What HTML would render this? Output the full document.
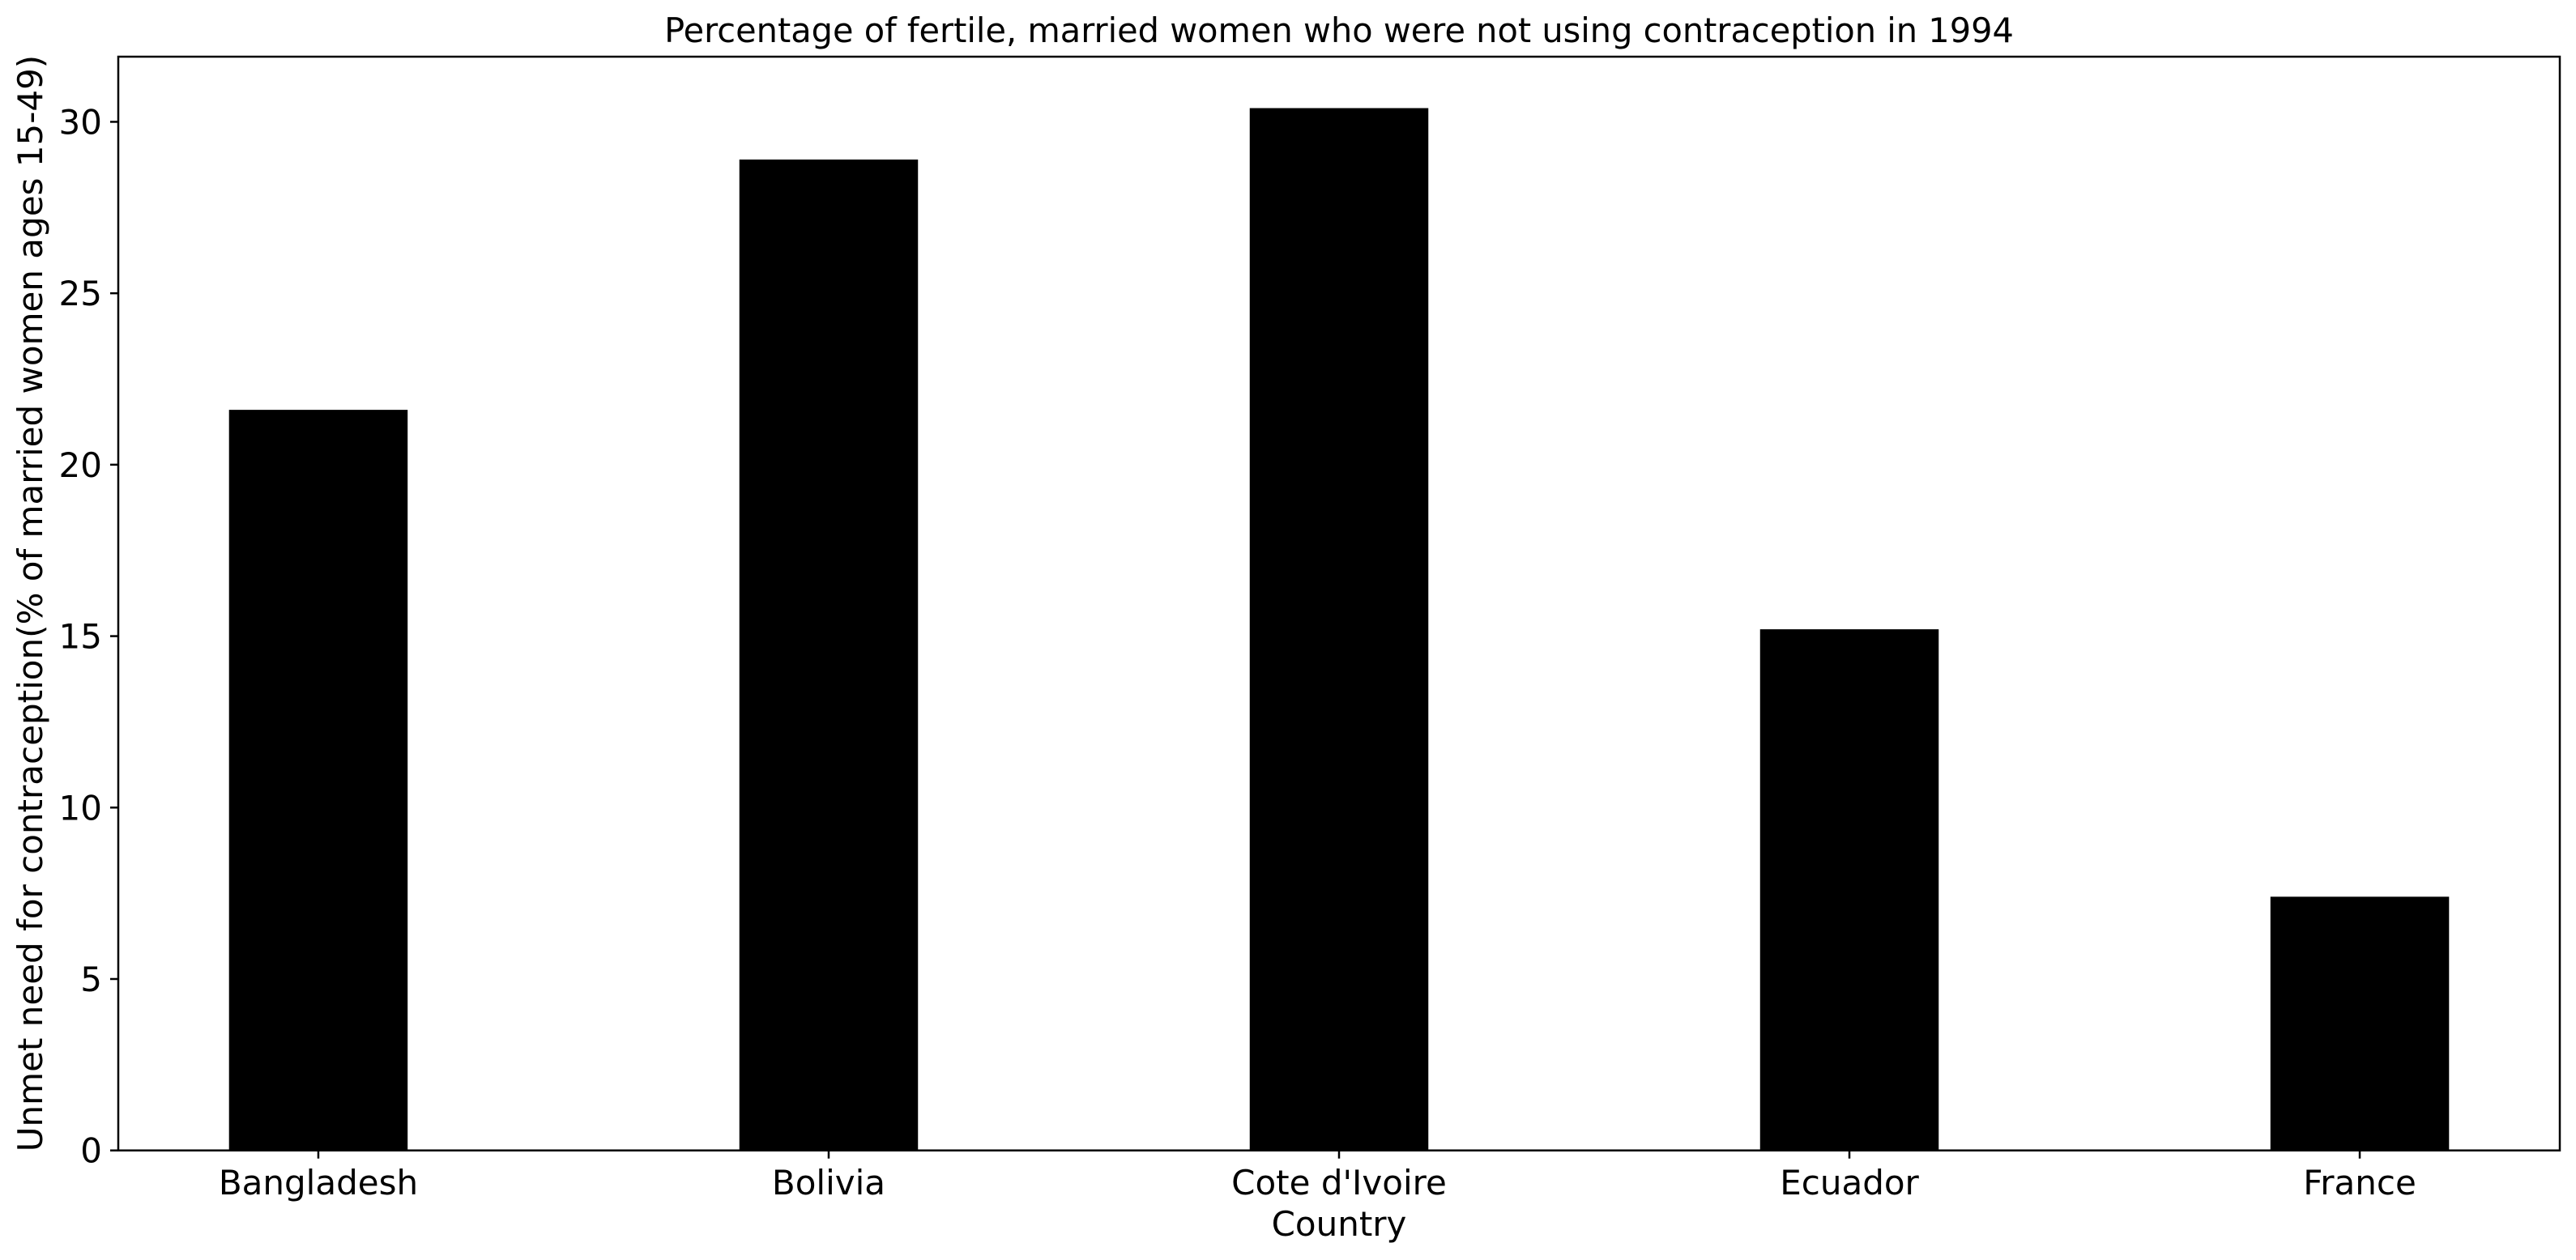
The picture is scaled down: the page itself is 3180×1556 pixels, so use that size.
<!DOCTYPE html>
<html><head><meta charset="utf-8"><style>
html,body{margin:0;padding:0;background:#fff;}
svg{display:block;font-family:"DejaVu Sans","Liberation Sans",sans-serif;}
</style></head><body>
<svg id="chart" width="3180" height="1556" viewBox="0 0 3180 1556" xmlns="http://www.w3.org/2000/svg">
<text x="1653" y="52" font-size="41.5" text-anchor="middle">Percentage of fertile, married women who were not using contraception in 1994</text>
<g id="bars"></g>
<g id="yticks"></g>
<g id="xticks"></g>
<rect x="146" y="70" width="3014" height="1350.7" fill="none" stroke="#000" stroke-width="2.5"/>
<text x="1653" y="1526" font-size="42" text-anchor="middle">Country</text>
<text transform="translate(52,745) rotate(-90)" font-size="42" text-anchor="middle">Unmet need for contraception(% of married women ages 15-49)</text>
</svg>
<script>
const categories = ["Bangladesh","Bolivia","Cote d'Ivoire","Ecuador","France"];
const values = [21.6, 28.9, 30.4, 15.2, 7.4];
const yTicks = [0,5,10,15,20,25,30];
const NS="http://www.w3.org/2000/svg";
const pLeft=146,pRight=3160,pTop=70,pBottom=1420.7;
const xMin=-0.392,xMax=4.392,yMin=0,yMax=31.9;
const barW=0.35;
function xs(v){return pLeft+(v-xMin)/(xMax-xMin)*(pRight-pLeft);}
function ys(v){return pBottom-(v-yMin)/(yMax-yMin)*(pBottom-pTop);}
const gb=document.getElementById('bars'),gy=document.getElementById('yticks'),gx=document.getElementById('xticks');
values.forEach((v,i)=>{
  const r=document.createElementNS(NS,'rect');
  r.setAttribute('x',xs(i-barW/2));r.setAttribute('width',xs(i+barW/2)-xs(i-barW/2));
  r.setAttribute('y',ys(v));r.setAttribute('height',ys(0)-ys(v));r.setAttribute('fill','#000');
  
  
  gb.appendChild(r);
});
yTicks.forEach(t=>{
  const y=ys(t);
  const l=document.createElementNS(NS,'line');
  l.setAttribute('x1',pLeft-10);l.setAttribute('x2',pLeft);l.setAttribute('y1',y);l.setAttribute('y2',y);
  l.setAttribute('stroke','#000');l.setAttribute('stroke-width','2.5');
  
  
  gy.appendChild(l);
  const tx=document.createElementNS(NS,'text');
  tx.setAttribute('x',pLeft-20);tx.setAttribute('y',y+15);tx.setAttribute('font-size','42');tx.setAttribute('text-anchor','end');
  tx.textContent=t;
  
  
  gy.appendChild(tx);
});
categories.forEach((c,i)=>{
  const x=xs(i);
  const l=document.createElementNS(NS,'line');
  l.setAttribute('x1',x);l.setAttribute('x2',x);l.setAttribute('y1',pBottom);l.setAttribute('y2',pBottom+10);
  l.setAttribute('stroke','#000');l.setAttribute('stroke-width','2.5');
  
  
  gx.appendChild(l);
  const tx=document.createElementNS(NS,'text');
  tx.setAttribute('x',x);tx.setAttribute('y',1475);tx.setAttribute('font-size','42');tx.setAttribute('text-anchor','middle');
  tx.textContent=c;
  
  
  gx.appendChild(tx);
});
</script>
</body></html>
